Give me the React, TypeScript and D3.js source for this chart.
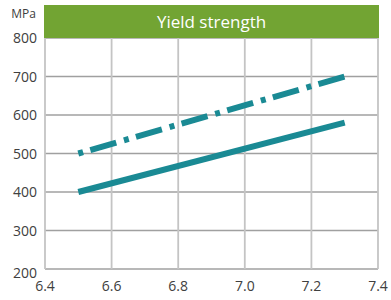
import React from "react";
import * as d3 from "d3";

const xTicks = [6.4, 6.6, 6.8, 7.0, 7.2, 7.4];
const yTicks = [200, 300, 400, 500, 600, 700, 800];
const solidX = [6.5, 7.3];
const solidY = [400, 580];
const dashX = [6.5, 7.3];
const dashY = [500, 700];
const title = "Yield strength";
const unit = "MPa";

export default function App() {
  const W = 391, H = 300;
  const x = d3.scaleLinear().domain([6.4, 7.4]).range([45, 378]);
  const y = d3.scaleLinear().domain([200, 800]).range([269, 38]);
  const line = d3.line<[number, number]>().x(d => x(d[0])).y(d => y(d[1]));
  const solid = solidX.map((v, i) => [v, solidY[i]] as [number, number]);
  const dash = dashX.map((v, i) => [v, dashY[i]] as [number, number]);
  const font = "'Open Sans', 'Liberation Sans', sans-serif";
  const teal = "#1a8a94";
  return (
    <svg width={W} height={H} style={{ position: "absolute", left: 0, top: 0 }} fontFamily={font}>
      <rect width={W} height={H} fill="#fff" />
      {yTicks.map(t => (
        <line key={"h" + t} x1={x(6.4)} x2={x(7.4)} y1={y(t)} y2={y(t)} stroke="#a0a0a0" strokeWidth={1.3} />
      ))}
      {xTicks.map(t => (
        <line key={"v" + t} x1={x(t)} x2={x(t)} y1={y(800)} y2={y(200)} stroke="#c4c4c4" strokeWidth={1.8} />
      ))}
      <rect x={x(6.4) - 1} y={5} width={x(7.4) - x(6.4) + 2} height={y(800) - 5} fill="#72a433" />
      <text x={(x(6.4) + x(7.4)) / 2} y={28} textAnchor="middle" fill="#fff" fontSize={17}>{title}</text>
      <text x={36} y={18} textAnchor="end" fill="#404040" fontSize={12}>{unit}</text>
      {yTicks.map(t => (
        <text key={"yl" + t} x={37} y={y(t) + (t === 200 ? 9 : 5)} textAnchor="end" fill="#404040" fontSize={14}>{t}</text>
      ))}
      {xTicks.map(t => (
        <text key={"xl" + t} x={x(t)} y={291} textAnchor="middle" fill="#404040" fontSize={14}>{t.toFixed(1)}</text>
      ))}
      <path d={line(solid) || ""} fill="none" stroke={teal} strokeWidth={6} />
      <path d={line(dash) || ""} fill="none" stroke={teal} strokeWidth={6} strokeDasharray="5,7.5,27,8" />
    </svg>
  );
}
